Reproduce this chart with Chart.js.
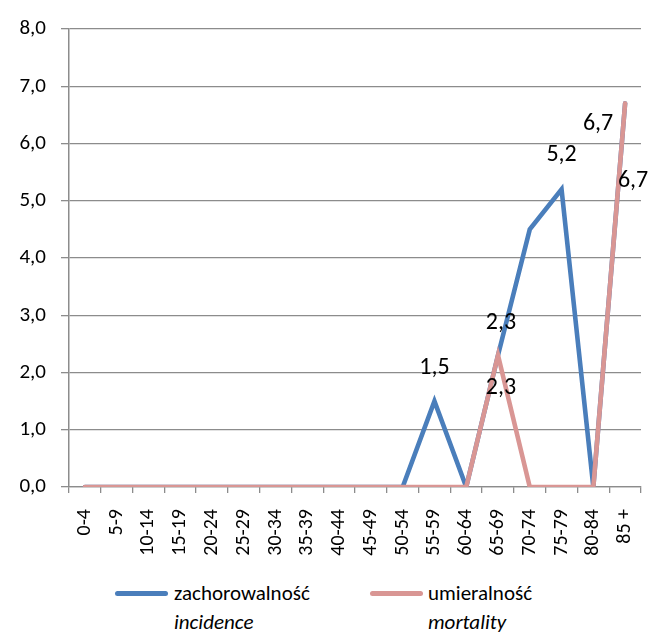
<!DOCTYPE html>
<html><head><meta charset="utf-8">
<script src="https://cdn.jsdelivr.net/npm/chart.js@4/dist/chart.umd.min.js"></script>
<style>
html,body{margin:0;padding:0;background:#fff;}
#wrap{position:relative;width:659px;height:634px;font-family:Carlito,Lato,sans-serif;color:#000;}
#c{position:absolute;left:0;top:0;}
.leg{position:absolute;font-size:21px;line-height:29px;white-space:nowrap;}
.leg i{display:block;}
.sw{position:absolute;height:5px;border-radius:3px;width:53px;}
</style></head>
<body>
<div id="wrap">
  <canvas id="c" width="659" height="570"></canvas>
  <div class="sw" id="sw0" style="left:115px;top:591px"></div>
  <div class="leg" style="left:174px;top:579px">zachorowalność<i>incidence</i></div>
  <div class="sw" id="sw1" style="left:370px;top:591px"></div>
  <div class="leg" style="left:428px;top:579px">umieralność<i>mortality</i></div>
</div>
<script>
const ageGroups = ['0-4','5-9','10-14','15-19','20-24','25-29','30-34','35-39','40-44','45-49','50-54','55-59','60-64','65-69','70-74','75-79','80-84','85 +'];
const incidence = [0,0,0,0,0,0,0,0,0,0,0,1.5,0,2.3,4.5,5.2,0,6.7];
const mortality = [0,0,0,0,0,0,0,0,0,0,0,0,0,2.3,0,0,0,6.7];
const seriesNames = ['zachorowalność','umieralność'];
const yTicks = [0,1,2,3,4,5,6,7,8];

const blue = '#4a7ebb', pink = '#d99694', grid = '#8c8c8c';
document.getElementById('sw0').style.background = blue;
document.getElementById('sw1').style.background = pink;

const fmt = v => v.toFixed(1).replace('.', ',');

// which points carry a value label, and where it sits relative to the point
const labelSpots = [
  {ds:0, i:11, dx:0,   dy:-33},
  {ds:0, i:13, dx:3,   dy:-32},
  {ds:1, i:13, dx:3,   dy:33},
  {ds:0, i:15, dx:0,   dy:-34},
  {ds:0, i:17, dx:-27, dy:21},
  {ds:1, i:17, dx:8,   dy:78},
];

const valueLabels = {
  id:'valueLabels',
  afterDatasetsDraw(chart){
    const ctx = chart.ctx;
    ctx.save();
    ctx.font = '24px Carlito, Lato, sans-serif';
    ctx.fillStyle = '#000';
    ctx.textAlign = 'center';
    ctx.textBaseline = 'middle';
    for (const s of labelSpots){
      const p = chart.getDatasetMeta(s.ds).data[s.i];
      const v = chart.data.datasets[s.ds].data[s.i];
      ctx.fillText(fmt(v), p.x + s.dx, p.y + s.dy);
    }
    ctx.restore();
  }
};

Chart.defaults.font.family = 'Carlito, Lato, sans-serif';
Chart.defaults.color = '#000';

new Chart(document.getElementById('c'), {
  type:'line',
  data:{
    labels: ageGroups,
    datasets:[
      {label:seriesNames[0], data:incidence, borderColor:blue, borderWidth:4.6, pointRadius:0, tension:0, borderCapStyle:'round', order:2},
      {label:seriesNames[1], data:mortality, borderColor:pink, borderWidth:4.6, pointRadius:0, tension:0, borderCapStyle:'round', order:1}
    ]
  },
  options:{
    responsive:false,
    animation:false,
    layout:{padding:{left:0, top:29, right:18, bottom:0}},
    plugins:{legend:{display:false}, tooltip:{enabled:false}},
    scales:{
      x:{
        offset:true,
        grid:{offset:true, drawOnChartArea:false, color:grid, lineWidth:1.3, tickLength:6},
        border:{color:grid, width:1.3},
        ticks:{maxRotation:90, minRotation:90, padding:16, font:{size:20}, autoSkip:false},
        afterFit(s){ s.height = 83; s.paddingLeft = 0; s.paddingRight = 0; }
      },
      y:{
        min:0, max:8,
        afterBuildTicks(s){ s.ticks = yTicks.map(v => ({value:v})); },
        grid:{color:grid, lineWidth:1.3, tickLength:8},
        border:{color:grid, width:1.5},
        ticks:{padding:15, font:{size:21}, callback:v => fmt(v)},
        afterFit(s){ s.width = 69; }
      }
    }
  },
  plugins:[valueLabels]
});
</script>
</body></html>
